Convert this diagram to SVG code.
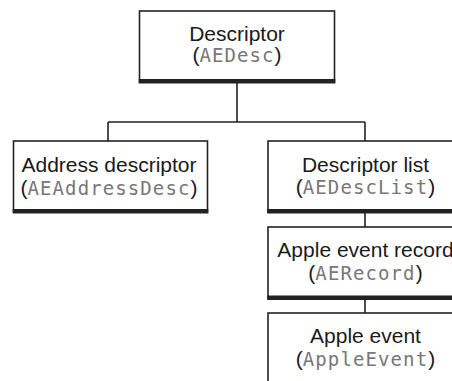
<svg xmlns="http://www.w3.org/2000/svg" width="452" height="381" viewBox="0 0 452 381">
<style>
.box{fill:#fff;stroke:#222;stroke-width:1.6}
.bar{fill:#222}
.t{font-family:"Liberation Sans",Arial,Helvetica,sans-serif;font-size:21px;fill:#1a1a1a}
.m{font-family:"DejaVu Sans Mono","Liberation Mono",monospace;font-size:19px;fill:#777;letter-spacing:1.1px}
.c{fill:none;stroke:#222;stroke-width:1.6}
</style>
<rect width="452" height="381" fill="#fff"/>
<g id="connectors">
<path class="c" d="M237 83V122M108 122H365M108 122V141M365 122V141M365 213V227M365 299V313"/>
</g>
<g id="descriptor">
<rect class="box" x="139.5" y="11" width="195" height="71"/>
<rect class="bar" x="138.7" y="79" width="196.6" height="4.5"/>
<text class="t" x="237" y="41" text-anchor="middle">Descriptor</text>
<text class="t" x="237" y="62" text-anchor="middle">(<tspan class="m">AEDesc</tspan>)</text>
</g>
<g id="address">
<rect class="box" x="13.5" y="141" width="194" height="71"/>
<rect class="bar" x="12.7" y="209" width="195.6" height="4.5"/>
<text class="t" x="109" y="172" text-anchor="middle">Address descriptor</text>
<text class="t" x="109" y="194.5" text-anchor="middle">(<tspan class="m">AEAddressDesc</tspan>)</text>
</g>
<g id="desclist">
<rect class="box" x="268" y="141" width="195" height="71"/>
<rect class="bar" x="267.2" y="209" width="196.6" height="4.5"/>
<text class="t" x="365.5" y="171.5" text-anchor="middle">Descriptor list</text>
<text class="t" x="365.5" y="194" text-anchor="middle">(<tspan class="m">AEDescList</tspan>)</text>
</g>
<g id="record">
<rect class="box" x="268" y="227" width="195" height="71"/>
<rect class="bar" x="267.2" y="295.5" width="196.6" height="4.5"/>
<text class="t" x="365.5" y="257" text-anchor="middle">Apple event record</text>
<text class="t" x="365.5" y="280" text-anchor="middle">(<tspan class="m">AERecord</tspan>)</text>
</g>
<g id="appleevent">
<rect class="box" x="268" y="313" width="195" height="80"/>
<text class="t" x="365.5" y="343" text-anchor="middle">Apple event</text>
<text class="t" x="365.5" y="366" text-anchor="middle">(<tspan class="m">AppleEvent</tspan>)</text>
</g>
</svg>
